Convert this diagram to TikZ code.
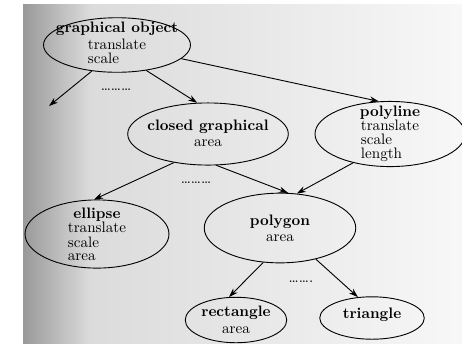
\documentclass[tikz,border=0pt]{standalone}
\usepackage{amsmath}
\usepackage{amssymb}
\usepackage{tikz}
\usetikzlibrary{shapes.geometric,arrows.meta}
\renewcommand{\arraystretch}{0.71}

\begin{document}
\begin{tikzpicture}[x=0.66pt,y=0.66pt,line width=0.6pt]
    \tikzstyle{every node}+=[inner sep=0pt]
    \tikzstyle{obj}=[ellipse,draw]
    \tikzstyle{arr}=[-{Stealth[length=6pt,width=4pt]}]
    \useasboundingbox (0,0) rectangle (462,-343);
    % the scanned page
    \fill [white] (0,0) rectangle (462,-343);
    \shade [left color=black!40,right color=black!14] (23,-4) rectangle (90,-343);
    \shade [left color=black!14,right color=black!3] (90,-4) rectangle (462,-343);
    % classes
    \node [obj,minimum width=97pt,minimum height=36pt,
        label={[yshift=10.8pt]center:\textbf{graphical object}},
        label={[yshift=-5.2pt]center:\begin{tabular}{@{}l@{}}translate\\scale\end{tabular}}]
        (go) at (117,-45) {};
    \node [obj,minimum width=106pt,minimum height=41pt,
        label={[yshift=4.6pt]center:\textbf{closed graphical}},
        label={[yshift=-6pt]center:area}] (cg) at (208,-134) {};
    \node [obj,minimum width=99pt,minimum height=43pt,
        label={[yshift=14pt]center:\textbf{polyline}},
        label={[yshift=-4.8pt]center:\begin{tabular}{@{}l@{}}translate\\scale\\length\end{tabular}}]
        (pl) at (390,-134) {};
    \node [obj,minimum width=95pt,minimum height=45pt,
        label={[yshift=12.6pt]center:\textbf{ellipse}},
        label={[yshift=-6pt]center:\begin{tabular}{@{}l@{}}translate\\scale\\area\end{tabular}}]
        (el) at (97,-234) {};
    \node [obj,minimum width=100pt,minimum height=46pt,
        label={[yshift=4pt]center:\textbf{polygon}},
        label={[yshift=-6.6pt]center:area}] (pg) at (280,-228) {};
    \node [obj,minimum width=67pt,minimum height=30pt,
        label={[yshift=4.6pt]center:\textbf{rectangle}},
        label={[yshift=-6.6pt]center:area}] (re) at (236,-320) {};
    \node [obj,minimum width=69pt,minimum height=28pt,
        label={[yshift=2pt]center:\textbf{triangle}}] (tr) at (372,-318) {};
    \coordinate (more) at (49,-106);
    % inheritance
    \draw [arr] (go.-134) -- (more);
    \draw [arr] (go.-41) -- (cg.109);
    \draw [arr] (go.-12) -- (pl.109);
    \draw [arr] (cg.-140) -- (el.95);
    \draw [arr] (cg.-75) -- (pg.77);
    \draw [arr] (pl.-142) -- (pg.64);
    \draw [arr] (pg.-116) -- (re.107);
    \draw [arr] (pg.-41) -- (tr.124);
    \node (dotsa) at (116,-90) {\ldots\ldots\ldots};
    \node (dotsb) at (196,-183) {\ldots\ldots\ldots};
    \node (dotsc) at (301,-282) {\ldots\ldots.};
\end{tikzpicture}
\end{document}
